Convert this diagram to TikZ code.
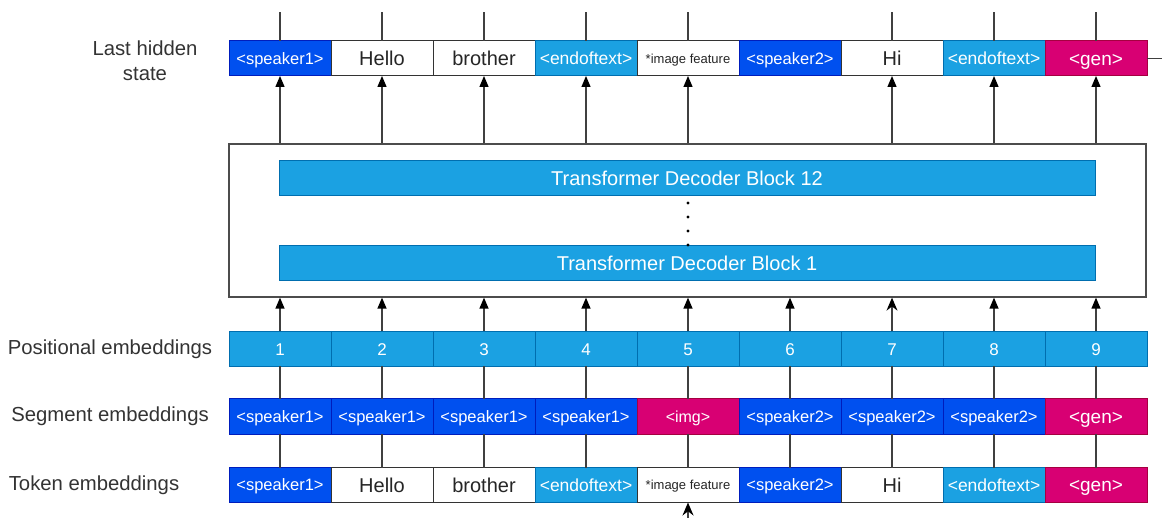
\documentclass[tikz,border=0pt]{standalone}
\usepackage{fontspec}
\setmainfont{Liberation Sans}
\usetikzlibrary{arrows.meta}
\definecolor{dblue}{HTML}{0050EF}
\definecolor{dblueb}{HTML}{001DBC}
\definecolor{lblue}{HTML}{1BA1E2}
\definecolor{lblueb}{HTML}{006EAF}
\definecolor{pinkc}{HTML}{D80073}
\definecolor{pinkb}{HTML}{A50040}
\definecolor{greyb}{HTML}{333333}
\tikzset{
  cell/.style={minimum width=102pt,minimum height=35pt,inner sep=0pt,outer sep=0pt,line width=1pt,text depth=0pt},
  wcell/.style={cell,draw=greyb,fill=white,text=black!85,font=\fontsize{20}{20}\selectfont,text height=14.3pt},
  dcell/.style={cell,draw=dblueb,fill=dblue,text=white,font=\fontsize{16.5}{16.5}\selectfont,text height=11.8pt},
  lcell/.style={cell,draw=lblueb,fill=lblue,text=white,font=\fontsize{17.5}{17.5}\selectfont,text height=12.5pt},
  pcell/.style={cell,draw=pinkb,fill=pinkc,text=white,font=\fontsize{19}{19}\selectfont,text height=13.6pt},
  icell/.style={cell,draw=greyb,fill=white,text=black!85,font=\fontsize{13}{13}\selectfont,text height=9.3pt},
  ncell/.style={cell,draw=lblueb,fill=lblue,text=white,font=\fontsize{17}{17}\selectfont,text height=12.2pt},
  block/.style={draw=lblueb,fill=lblue,text=white,line width=1pt,minimum width=816pt,minimum height=35pt,inner sep=0pt,font=\fontsize{20}{20}\selectfont,text height=14.3pt,text depth=0pt},
  lbl/.style={font=\fontsize{20.3}{25}\selectfont,text=black!80,inner sep=0pt},
  conn/.style={draw=black!75,line width=1.3pt},
  arr/.style={conn,-{Triangle[width=9pt,length=11pt,color=black]}},
  sarr/.style={conn,-{Stealth[width=11pt,length=13pt,color=black]}},
}
\begin{document}
\begin{tikzpicture}[x=1pt,y=-1pt]
\useasboundingbox (0,0) rectangle (1162,518);
% transformer box
\node[draw=black!70,line width=1.3pt,minimum width=917pt,minimum height=153pt,inner sep=0pt] (tb) at (687.5,220.5) {};
\node[block] (b12) at (687,178.5) {Transformer Decoder Block 12};
\node[block] (b1) at (687,263.5) {Transformer Decoder Block 1};
\foreach \yy in {203,217,231,245} \fill (688,\yy) circle (1.7pt);
% hidden
\node[dcell] (h1) at (280,58.5) {<speaker1>};
\node[wcell] (h2) at (382,58.5) {Hello};
\node[wcell] (h3) at (484,58.5) {brother};
\node[lcell] (h4) at (586,58.5) {<endoftext>};
\node[icell] (h5) at (688,58.5) {*image feature};
\node[dcell] (h6) at (790,58.5) {<speaker2>};
\node[wcell] (h7) at (892,58.5) {Hi};
\node[lcell] (h8) at (994,58.5) {<endoftext>};
\node[pcell] (h9) at (1096,58.5) {<gen>};
% positional
\foreach \i in {1,...,9} \node[ncell] (p\i) at ({178+102*\i},349) {\i};
% segment
\node[dcell] (s1) at (280,416.5) {<speaker1>};
\node[dcell] (s2) at (382,416.5) {<speaker1>};
\node[dcell] (s3) at (484,416.5) {<speaker1>};
\node[dcell] (s4) at (586,416.5) {<speaker1>};
\node[pcell,font=\fontsize{16}{16}\selectfont,text height=11.5pt] (s5) at (688,416.5) {<img>};
\node[dcell] (s6) at (790,416.5) {<speaker2>};
\node[dcell] (s7) at (892,416.5) {<speaker2>};
\node[dcell] (s8) at (994,416.5) {<speaker2>};
\node[pcell] (s9) at (1096,416.5) {<gen>};
% token
\node[dcell] (t1) at (280,485) {<speaker1>};
\node[wcell] (t2) at (382,485) {Hello};
\node[wcell] (t3) at (484,485) {brother};
\node[lcell] (t4) at (586,485) {<endoftext>};
\node[icell] (t5) at (688,485) {*image feature};
\node[dcell] (t6) at (790,485) {<speaker2>};
\node[wcell] (t7) at (892,485) {Hi};
\node[lcell] (t8) at (994,485) {<endoftext>};
\node[pcell] (t9) at (1096,485) {<gen>};
% labels
\node[lbl,align=center] (lh) at (145,61) {Last hidden\\state};
\node[lbl] (lp) at (110,349) {Positional embeddings};
\node[lbl] (ls) at (110,416) {Segment embeddings};
\node[lbl] (lt) at (94,485) {Token embeddings};
% connectors lower
\foreach \i in {1,...,9} {
  \draw[conn] (t\i.north) -- (s\i.south);
  \draw[conn] (s\i.north) -- (p\i.south);
}
\foreach \i in {1,2,3,4,5,6,8,9} {
  \draw[arr] (p\i.north) -- (p\i.north |- tb.south);
}
\draw[sarr] (p7.north) -- (p7.north |- tb.south);
% connectors upper
\foreach \i in {1,2,3,4,5,7,8,9} {
  \draw[arr] (h\i.south |- tb.north) -- (h\i.south);
  \coordinate (c\i) at (h\i.north |- 0,12);
  \draw[conn] (h\i.north) -- (c\i);
}
\coordinate (cr) at (1162,58.5);
\draw[conn] (h9.east) -- (cr);
\coordinate (cb) at (688,518);
\draw[sarr] (cb) -- (t5.south);
\end{tikzpicture}
\end{document}
